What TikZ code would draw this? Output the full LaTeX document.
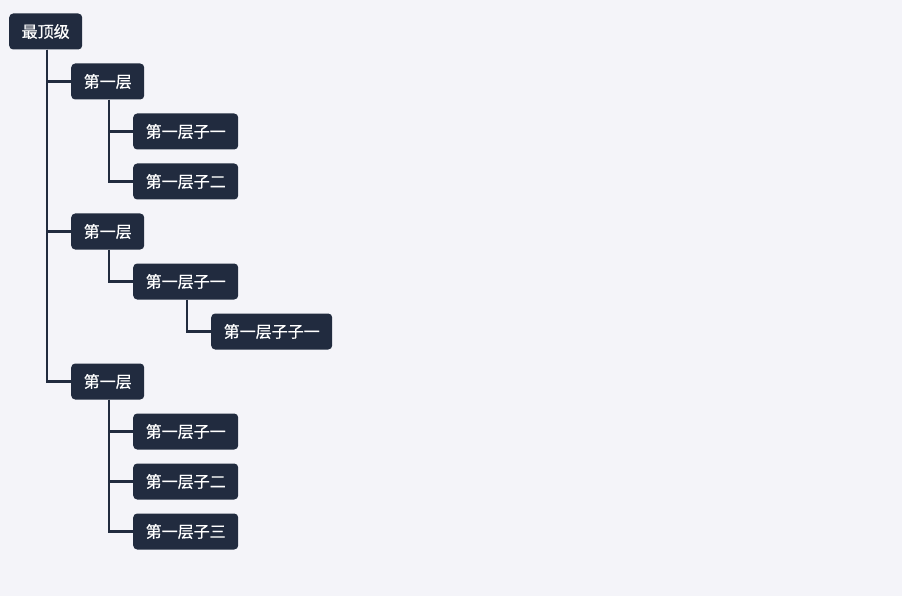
\documentclass[tikz,border=0pt]{standalone}
\usepackage{fontspec}
\newfontfamily\cjk[FakeBold=0.6]{Noto Sans CJK SC}
\definecolor{bgc}{HTML}{F4F4F9}
\definecolor{boxc}{HTML}{212B3F}
\tikzset{
  tbox/.style={draw=none, fill=boxc, text=white, rounded corners=4pt, anchor=west,
    minimum height=36pt, inner xsep=12.5pt, inner ysep=0pt,
    font=\cjk\fontsize{16}{18}\selectfont},
  link/.style={draw=boxc, line width=2.2pt}
}
\begin{document}
\begin{tikzpicture}[x=1pt,y=-1pt]
\fill[bgc] (0,0) rectangle (902,596);
\useasboundingbox (0,0) rectangle (902,596);
\node[tbox] (r) at (9,31.5) {最顶级};
\node[tbox] (a) at (71,81.5) {第一层};
\node[tbox] (a1) at (133,131.5) {第一层子一};
\node[tbox] (a2) at (133,181.5) {第一层子二};
\node[tbox] (b) at (71,231.5) {第一层};
\node[tbox] (b1) at (133,281.5) {第一层子一};
\node[tbox] (b11) at (211,331.5) {第一层子子一};
\node[tbox] (c) at (71,381.5) {第一层};
\node[tbox] (c1) at (133,431.5) {第一层子一};
\node[tbox] (c2) at (133,481.5) {第一层子二};
\node[tbox] (c3) at (133,531.5) {第一层子三};
\foreach \p/\ch in {r/a,r/b,r/c,a/a1,a/a2,b/b1,b1/b11,c/c1,c/c2,c/c3}{
  \draw[link] ([xshift=1.5pt]\p.south) |- (\ch.west);
}
\end{tikzpicture}
\end{document}
